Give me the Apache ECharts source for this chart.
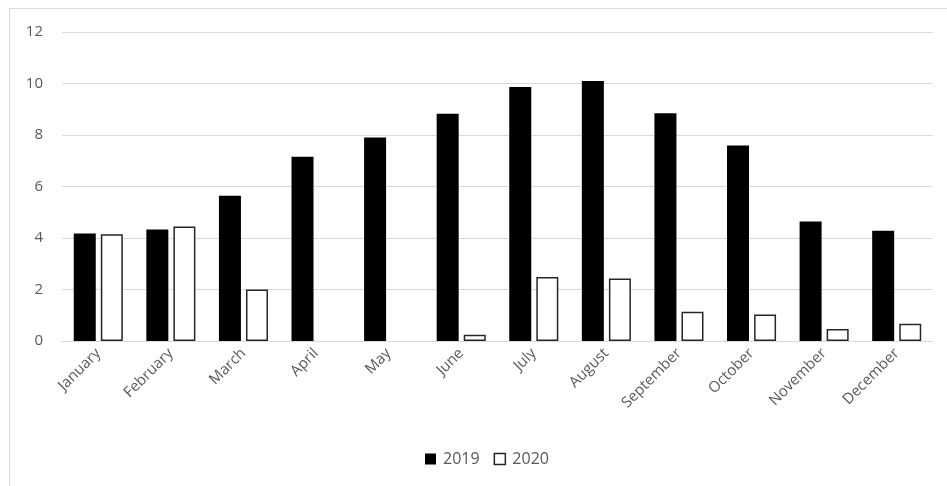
<!DOCTYPE html>
<html>
<head>
<meta charset="utf-8">
<script src="https://cdn.jsdelivr.net/npm/echarts@6/dist/echarts.min.js"></script>
<style>
  html, body { margin: 0; padding: 0; background: #fff; }
  #frame {
    position: absolute; left: 9px; top: 8px;
    width: 950px; height: 490px;
    border: 1px solid #d9d9d9;
  }
  #chart { position: absolute; left: 0; top: 0; width: 947px; height: 486px; }
</style>
</head>
<body>
<div id="frame"></div>
<div id="chart"></div>
<script>
  // months on the x axis
  const months = ['January', 'February', 'March', 'April', 'May', 'June',
    'July', 'August', 'September', 'October', 'November', 'December'];
  const years = ['2019', '2020'];
  const values2019 = [4.17, 4.33, 5.64, 7.16, 7.9, 8.83, 9.86, 10.1, 8.84, 7.59, 4.64, 4.28];
  // April and May have no 2020 bar
  const values2020 = [4.15, 4.45, 2.0, null, null, 0.24, 2.49, 2.43, 1.14, 1.03, 0.47, 0.67];
  const yTicks = [0, 2, 4, 6, 8, 10, 12];

  const font = '"Open Sans", "DejaVu Sans", sans-serif';
  const myChart = echarts.init(document.getElementById('chart'));
  myChart.setOption({
    animation: false,
    grid: { left: 62, right: 14, top: 32, bottom: 145, containLabel: false },
    legend: {
      data: [
        { name: years[0], icon: 'rect', itemStyle: { color: '#000', borderWidth: 0 } },
        { name: years[1], icon: 'rect', itemStyle: { color: '#fff', borderColor: '#262626', borderWidth: 1.5 } }
      ],
      top: 446,
      left: 420,
      itemWidth: 11,
      itemHeight: 11,
      itemGap: 14,
      textStyle: { color: '#595959', fontSize: 16, fontFamily: font, padding: [0, 0, 0, 2] }
    },
    xAxis: {
      type: 'category',
      data: months,
      axisLine: { lineStyle: { color: '#d9d9d9' } },
      axisTick: { show: false },
      axisLabel: { rotate: 45, color: '#595959', fontSize: 15, fontFamily: font, margin: 10, interval: 0 }
    },
    yAxis: {
      type: 'value',
      min: yTicks[0],
      max: yTicks[yTicks.length - 1],
      interval: 2,
      axisLine: { show: false },
      axisTick: { show: false },
      splitLine: { lineStyle: { color: '#d9d9d9' } },
      axisLabel: { color: '#595959', fontSize: 15, fontFamily: font, margin: 19 }
    },
    series: [{
      name: years[0],
      type: 'bar',
      data: values2019,
      barWidth: 22,
      barGap: '23%',
      itemStyle: { color: '#000' }
    }, {
      name: years[1],
      type: 'bar',
      data: values2020,
      barWidth: 22,
      itemStyle: { color: '#fff', borderColor: '#262626', borderWidth: 1.5 }
    }]
  });
</script>
</body>
</html>
